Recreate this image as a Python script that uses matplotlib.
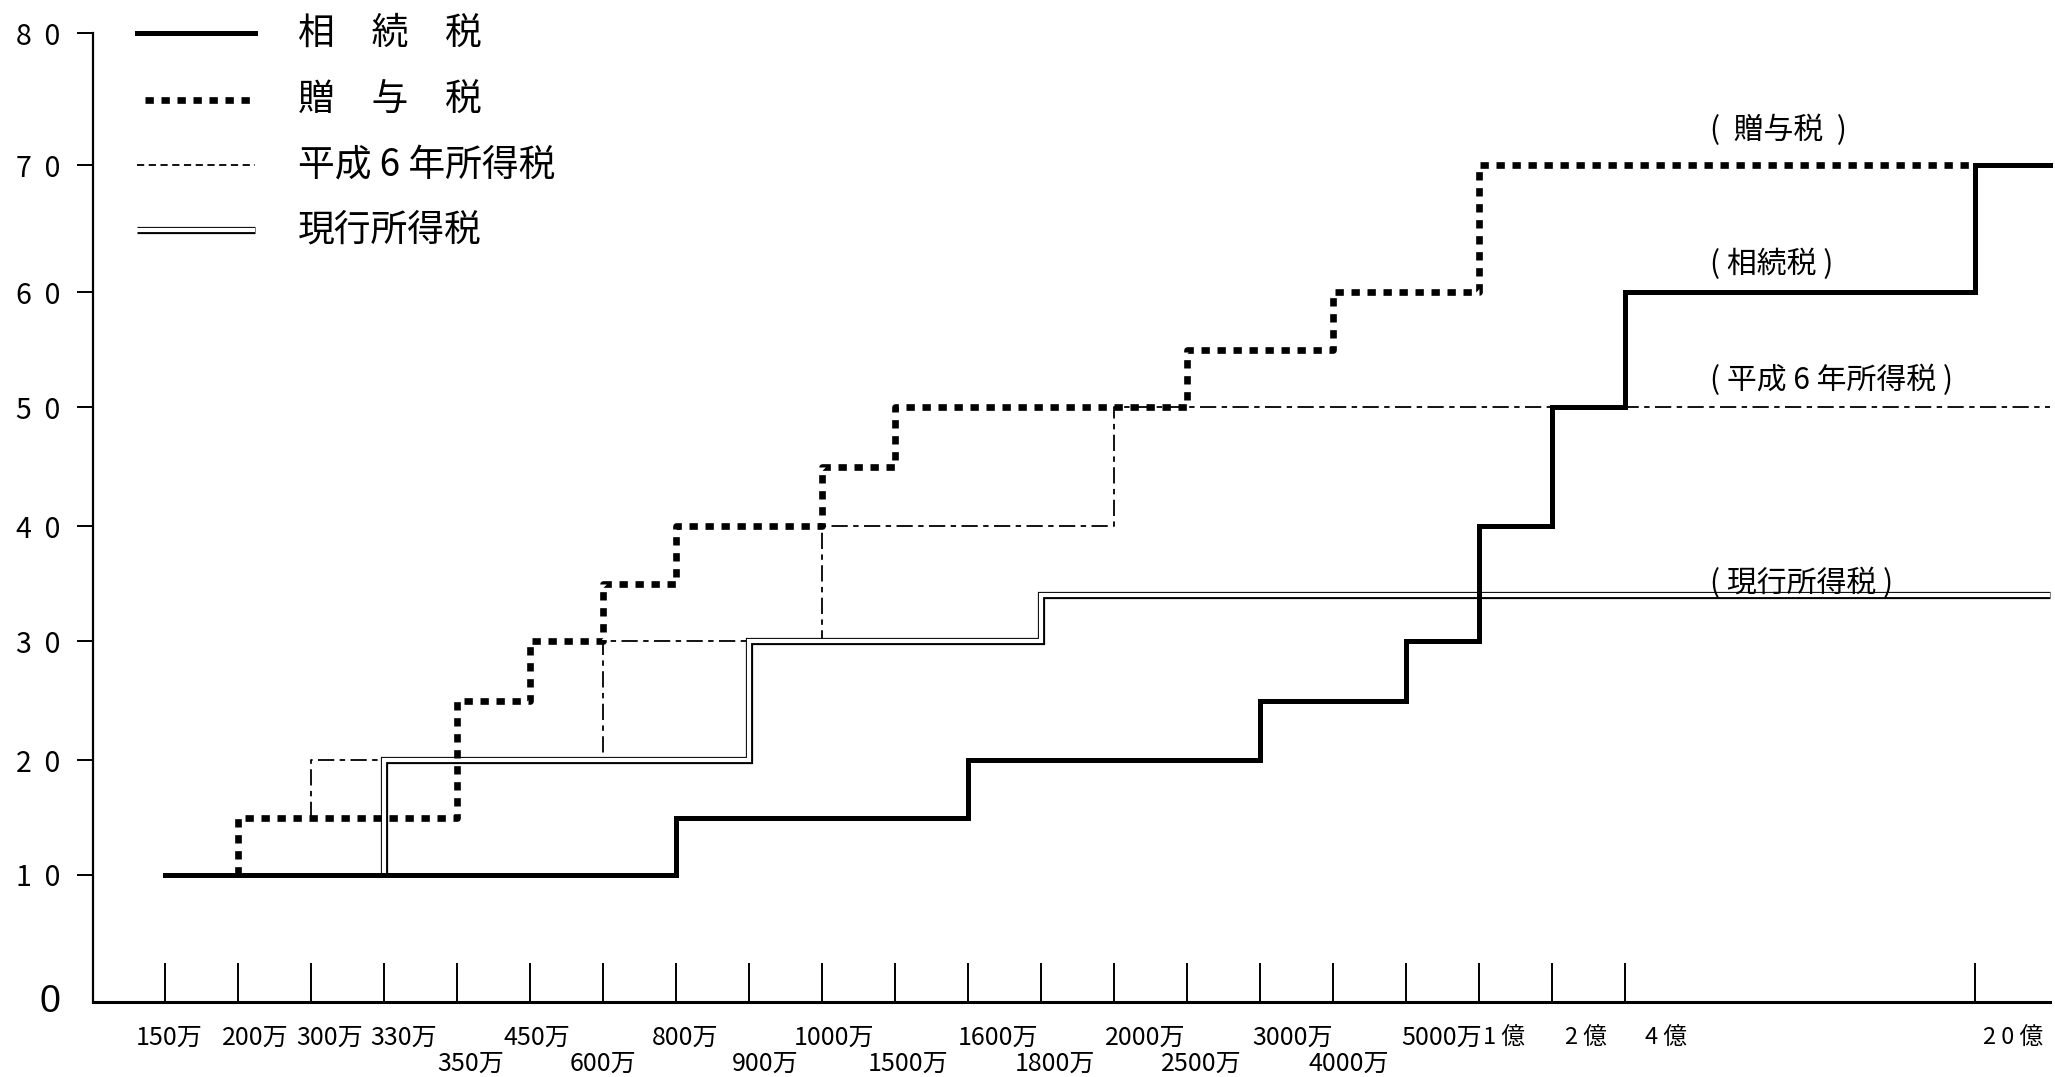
import numpy as np
import matplotlib
matplotlib.use('Agg')
import matplotlib.pyplot as plt

plt.rcParams['font.family'] = ['Noto Sans CJK JP', 'DejaVu Sans']

# x categories (income / inheritance amount)
tick_labels = ['150万', '200万', '300万', '330万', '350万', '450万', '600万', '800万',
               '900万', '1000万', '1500万', '1600万', '1800万', '2000万', '2500万',
               '3000万', '4000万', '5000万', '1 億', '2 億', '4 億', '2 0 億']
label_row = [0, 0, 0, 0, 1, 0, 1, 0, 1, 0, 1, 0, 1, 0, 1, 0, 1, 0, 0, 0, 0, 0]
label_shift = [0.05, 0.24, 0.25, 0.27, 0.19, 0.10, 0.0, 0.12, 0.22, 0.16, 0.18, 0.41,
               0.19, 0.42, 0.20, 0.45, 0.22, 0.49, 0.34, 0.47, 0.56, 0.53]

# tax rate steps (%): start point of each bracket
sozoku_x = ['150万', '800万', '1600万', '3000万', '5000万', '1 億', '2 億', '4 億', '2 0 億']
sozoku_y = [10, 15, 20, 25, 30, 40, 50, 60, 70]

zoyo_x = ['200万', '200万', '350万', '450万', '600万', '800万', '1000万', '1500万',
          '2500万', '4000万', '1 億']
zoyo_y = [10, 15, 25, 30, 35, 40, 45, 50, 55, 60, 70]
zoyo_end = '2 0 億'

h6_x = ['300万', '300万', '600万', '1000万', '2000万']
h6_y = [15, 20, 30, 40, 50]

genko_x = ['330万', '330万', '900万', '1800万']
genko_y = [10, 20, 30, 34]

y_ticks = [10, 20, 30, 40, 50, 60, 70, 80]
y_tick_labels = ['1  0', '2  0', '3  0', '4  0', '5  0', '6  0', '7  0', '8  0']

# x positions: evenly spaced, 20億 set further right
x_pos = list(range(21)) + [24.79]
pos = dict(zip(tick_labels, x_pos))
X_LEFT, X_RIGHT = -0.986, 25.82

# the printed y axis is slightly uneven; map it piecewise
y_knots = [0, 10, 20, 30, 40, 50, 60, 70, 80]
y_px = np.array([0, 127, 242, 361, 476, 595, 710, 837, 969], dtype=float)

def fwd(v):
    return np.interp(v, y_knots, y_px)

def inv(t):
    return np.interp(t, y_px, y_knots)

W, H = 2055, 1077
fig = plt.figure(figsize=(W / 100, H / 100), dpi=100)
ax = fig.add_axes([93 / W, 1 - 1002 / H, (2050 - 93) / W, (1002 - 33) / H])
ax.set_yscale('function', functions=(fwd, inv))
ax.set_xlim(X_LEFT, X_RIGHT)
ax.set_ylim(0, 80)

def steps(xs, ys, end):
    px = [pos[x] for x in xs] + [end]
    py = list(ys) + [ys[-1]]
    return px, py

# 平成6年所得税 (thin dash-dot)
px, py = steps(h6_x, h6_y, X_RIGHT)
ax.plot(px, py, drawstyle='steps-post', color='black', lw=1.3,
        linestyle=(0, (9, 3, 3, 3)), zorder=2, clip_on=False)

# 現行所得税 (double line)
px, py = steps(genko_x, genko_y, X_RIGHT)
ax.plot(px, py, drawstyle='steps-post', color='black', lw=5.2, zorder=3,
        solid_joinstyle='miter', solid_capstyle='butt', clip_on=False)
ax.plot(px, py, drawstyle='steps-post', color='white', lw=3.0, zorder=3.1,
        solid_joinstyle='miter', solid_capstyle='butt', clip_on=False)

# 贈与税 (thick dotted)
px, py = steps(zoyo_x, zoyo_y, pos[zoyo_end])
ax.plot(px, py, drawstyle='steps-post', color='black', lw=4.8,
        linestyle=(0, (1.25, 1.15)), zorder=4, clip_on=False)

# 相続税 (thick solid)
px, py = steps(sozoku_x, sozoku_y, X_RIGHT)
ax.plot(px, py, drawstyle='steps-post', color='black', lw=3.6, zorder=5,
        solid_joinstyle='miter', clip_on=False)

# axes
for s in ['top', 'right']:
    ax.spines[s].set_visible(False)
ax.spines['left'].set_linewidth(1.6)
ax.spines['bottom'].set_linewidth(2.2)

ax.set_yticks(y_ticks)
ax.set_yticklabels(y_tick_labels, fontsize=20.5)
ax.tick_params(axis='y', direction='out', length=11.5, width=1.4, pad=12)
ax.set_xticks(x_pos)
ax.set_xticklabels([])
ax.tick_params(axis='x', direction='in', length=28, width=1.4)
ax.yaxis.set_minor_locator(plt.NullLocator())

ax.text(-1.57, 0, '0', fontsize=27, family='Liberation Sans',
        ha='center', va='center', clip_on=False)

# x labels in two rows
for lab, x, r, sh in zip(tick_labels, x_pos, label_row, label_shift):
    y_fig = 1 - (1038 if r == 0 else 1064) / H
    if '億' in lab:
        fam = ['Noto Sans CJK JP', 'DejaVu Sans']
        fs = 17
    else:
        fam = ['Liberation Sans Narrow', 'Noto Sans CJK JP']
        fs = 18
    ax.text(x + sh, y_fig, lab, transform=ax.get_xaxis_transform().__class__(ax.transData, fig.transFigure),
            fontsize=fs, family=fam, ha='center', va='center', clip_on=False)

# inline labels on the right
ann = [('(  贈与税  )', 72.6), ('( 相続税 )', 62.2), ('( 平成 6 年所得税 )', 52.3), ('( 現行所得税 )', 35.0)]
for txt, yv in ann:
    ax.text(21.16, yv, txt, fontsize=21.5, ha='left', va='center', zorder=6)

# legend
leg_y = [33, 100, 165, 230]
leg_txt = ['相\u3000続\u3000税', '贈\u3000与\u3000税', '平成 6 年所得税', '現行所得税']
lx = [137 / W, 255 / W]
ly = [1 - v / H for v in leg_y]
ax.plot(lx, [ly[0]] * 2, transform=fig.transFigure, color='black', lw=3.6, clip_on=False)
ax.plot([145 / W, 255 / W], [ly[1]] * 2, transform=fig.transFigure, color='black', lw=4.8,
        linestyle=(0, (1.25, 1.15)), clip_on=False)
ax.plot(lx, [ly[2]] * 2, transform=fig.transFigure, color='black', lw=1.3,
        linestyle=(0, (4, 2.5)), clip_on=False)
ax.plot(lx, [ly[3]] * 2, transform=fig.transFigure, color='black', lw=5.2,
        solid_capstyle='butt', clip_on=False)
ax.plot(lx, [ly[3]] * 2, transform=fig.transFigure, color='white', lw=3.0,
        solid_capstyle='butt', clip_on=False)
for t, yy in zip(leg_txt, ly):
    fig.text(298 / W, yy, t, fontsize=26.5, ha='left', va='center')

fig.savefig('out.png', dpi=100)
